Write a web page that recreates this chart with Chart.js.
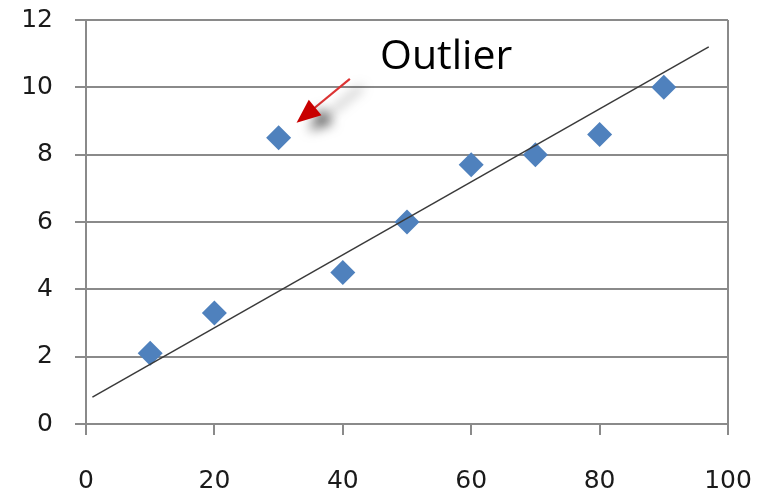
<!DOCTYPE html>
<html>
<head>
<meta charset="utf-8">
<script src="https://cdn.jsdelivr.net/npm/chart.js@4/dist/chart.umd.min.js"></script>
<style>
  html, body { margin: 0; padding: 0; background: #fff; }
</style>
</head>
<body>
<canvas id="chart" width="763" height="491"></canvas>
<script>
// data
const xValues = [10, 20, 30, 40, 50, 60, 70, 80, 90]
const yValues = [2.1, 3.3, 8.5, 4.5, 6.0, 7.7, 8.0, 8.6, 10.0]

// trend line end points
const trendX = [1, 97]
const trendY = [0.8, 11.2]

const xTicks = [0, 20, 40, 60, 80, 100]
const yTicks = [0, 2, 4, 6, 8, 10, 12]

// annotation, in data units
const outlierLabel = "Outlier"
const labelAt = [45.8, 10.9]
const arrowFrom = [41.1, 10.25]
const arrowTo = [32.8, 8.95]

const gray = "#8a8a8a"
const tickFont = { family: "'DejaVu Sans', sans-serif", size: 25 }

function toPoints(xs, ys){
  return xs.map((x, i) => ({ x: x, y: ys[i] }))
}

const annotationPlugin = {
  id: "outlierNote",
  afterDatasetsDraw(chart){
    const ctx = chart.ctx
    const sx = chart.scales.x, sy = chart.scales.y
    const x1 = sx.getPixelForValue(arrowFrom[0]), y1 = sy.getPixelForValue(arrowFrom[1])
    const x2 = sx.getPixelForValue(arrowTo[0]), y2 = sy.getPixelForValue(arrowTo[1])
    const ang = Math.atan2(y2 - y1, x2 - x1)
    const headLen = 24, headW = 10

    ctx.save()
    ctx.shadowColor = "rgba(0,0,0,0.6)"
    ctx.shadowBlur = 12
    ctx.shadowOffsetX = 12
    ctx.shadowOffsetY = 8

    // shaft
    ctx.strokeStyle = "#dc3434"
    ctx.lineWidth = 2.2
    ctx.beginPath()
    ctx.moveTo(x1, y1)
    ctx.lineTo(x2 - Math.cos(ang) * headLen * 0.8, y2 - Math.sin(ang) * headLen * 0.8)
    ctx.stroke()

    // head
    const bx = x2 - Math.cos(ang) * headLen, by = y2 - Math.sin(ang) * headLen
    ctx.fillStyle = "#c80000"
    ctx.beginPath()
    ctx.moveTo(x2, y2)
    ctx.lineTo(bx + Math.sin(ang) * headW, by - Math.cos(ang) * headW)
    ctx.lineTo(bx - Math.sin(ang) * headW, by + Math.cos(ang) * headW)
    ctx.closePath()
    ctx.fill()
    ctx.restore()

    ctx.save()
    ctx.fillStyle = "#000"
    ctx.font = "41px 'Open Sans', sans-serif"
    ctx.textBaseline = "middle"
    ctx.textAlign = "left"
    ctx.fillText(outlierLabel, sx.getPixelForValue(labelAt[0]), sy.getPixelForValue(labelAt[1]))
    ctx.restore()
  }
}

new Chart(document.getElementById("chart"), {
  type: "scatter",
  data: {
    datasets: [
      {
        type: "line",
        data: toPoints(trendX, trendY),
        borderColor: "#3a3a3a",
        borderWidth: 1.5,
        pointRadius: 0,
        fill: false
      },
      {
        data: toPoints(xValues, yValues),
        pointStyle: "rectRot",
        pointRadius: 12.5,
        pointHoverRadius: 12.5,
        backgroundColor: "#4f81bd",
        borderColor: "#4f81bd",
        borderWidth: 0
      }
    ]
  },
  options: {
    responsive: false,
    animation: false,
    devicePixelRatio: 1,
    layout: { padding: { top: 20, right: 35, bottom: 0, left: 0 } },
    plugins: {
      legend: { display: false },
      tooltip: { enabled: false }
    },
    scales: {
      x: {
        type: "linear",
        min: 0, max: 100,
        afterBuildTicks: s => { s.ticks = xTicks.map(v => ({ value: v })) },
        afterFit: s => { s.height = 67; s.paddingLeft = 0; s.paddingRight = 0 },
        grid: {
          color: c => (c.tick && c.tick.value === 100) ? gray : "transparent",
          tickColor: gray,
          lineWidth: 2,
          tickLength: 11
        },
        border: { color: gray, width: 2 },
        ticks: { color: "#1a1a1a", font: tickFont, padding: 31, maxRotation: 0 }
      },
      y: {
        min: 0, max: 12,
        afterBuildTicks: s => { s.ticks = yTicks.map(v => ({ value: v })) },
        afterFit: s => { s.width = 86; s.paddingTop = 0; s.paddingBottom = 0 },
        grid: { color: gray, lineWidth: 2, tickLength: 11 },
        border: { color: gray, width: 2 },
        ticks: { color: "#1a1a1a", font: tickFont, padding: 22 }
      }
    }
  },
  plugins: [annotationPlugin]
})
</script>
</body>
</html>
